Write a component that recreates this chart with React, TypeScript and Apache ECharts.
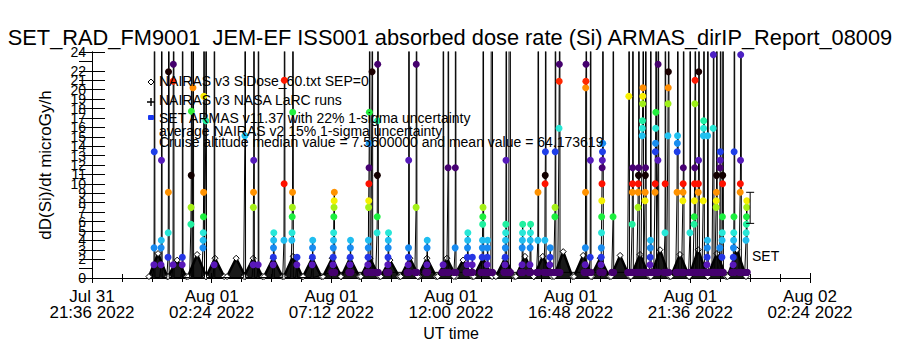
import React, { useEffect, useRef } from "react";
import * as echarts from "echarts";

const FONT = "Liberation Sans";

const titleText =
  "SET_RAD_FM9001  JEM-EF ISS001 absorbed dose rate (Si) ARMAS_dirIP_Report_08009";
const yAxisName = "dD(Si)/dt microGy/h";
const xAxisName = "UT time";
const legendLines = [
  "NAIRAS v3 SiDose_60.txt SEP=0",
  "NAIRAS v3 NASA LaRC runs",
  "SET ARMAS v11.37 with 22% 1-sigma uncertainty",
  "average NAIRAS v2 15% 1-sigma uncertainty",
  "Cruise altitude median value = 7.5600000 and mean value = 64.173619",
];

// x axis: minutes since Jul 31 21:36 UT
const xTickLabels = [
  "Jul 31\n21:36 2022",
  "Aug 01\n02:24 2022",
  "Aug 01\n07:12 2022",
  "Aug 01\n12:00 2022",
  "Aug 01\n16:48 2022",
  "Aug 01\n21:36 2022",
  "Aug 02\n02:24 2022",
];
const X_STEP = 288;
const X_MAX = 1728;
const Y_MAX = 24;

// NAIRAS v3 modelled dose: orbit humps (peak time in minutes, peak value)
const nairasPeakMin = [
  159, 205, 253, 296, 347, 388, 436, 484, 530, 578, 621, 669, 717, 765, 806,
  854, 893, 941, 994, 1042, 1085, 1134, 1182, 1223, 1271, 1319, 1367, 1415,
  1459, 1504, 1552,
];
const nairasPeakVal = [
  2.6, 1.9, 2.5, 2.1, 2.1, 2.1, 2.1, 2.3, 2.1, 2.1, 2.1, 2.1, 1.9, 2.1, 2.1,
  2.1, 1.9, 2.1, 2.1, 2.3, 2.3, 2.8, 2.4, 2.1, 2.4, 2.5, 3.0, 2.5, 3.0, 2.6,
  3.0,
];
const nairasBase = 0.15;
const nairasHalfWidth = 22;

// SET ARMAS measurements: columns of readings (minutes), 99 = off scale
const TOP = 99;
const armasColMin = [
  149, 166, 183, 195, 217, 238, 243, 267, 274, 294, 368, 388, 400, 436, 462,
  481, 493, 530, 580, 621, 664, 674, 686, 712, 761, 780, 806, 845, 857, 874,
  903, 915, 939, 951, 963, 994, 1006, 1035, 1054, 1073, 1090, 1102, 1114,
  1124, 1187, 1199, 1225, 1254, 1292, 1300, 1314, 1324, 1331, 1343, 1355,
  1362, 1379, 1386, 1408, 1422, 1439, 1449, 1459, 1471, 1480, 1495, 1502,
  1511, 1516, 1543, 1560, 1574,
];
const armasColLevels: number[][] = [
  [1.4, 3.2, 13.4, TOP],
  [1.4, 3.2, 4.0, 12.5, TOP],
  [2.2, 4.8, 9.1, 21.9, TOP],
  [1.4, 20.9, 22.7, TOP],
  [1.4, 2.2, TOP],
  [5.7, 7.5, 10.9, 17.7, TOP],
  [20.2, TOP],
  [3.2, 4.0, 4.8, 6.5, 9.1, 19.3, TOP],
  [16.7, TOP],
  [1.4, TOP],
  [15.1, TOP],
  [1.4, 7.5, 9.1, 12.5, TOP],
  [1.4, TOP],
  [1.4, 2.2, 3.2, 4.0, 4.8],
  [4.0, 10.0, 21.0, TOP],
  [4.0, 4.8, 6.5, 7.5, 9.1, 17.6, TOP],
  [1.4, 2.2],
  [1.4, 2.2, 3.2, 4.0],
  [1.4, 2.2, 3.2, 4.0, 4.8, 6.5, 7.5, 8.2, 9.1],
  [1.4, 2.2, 3.2, 4.0],
  [1.4, 2.2, 3.2, 4.0, 7.5, 8.2, 10.0, 11.7, 14.3, 17.6, TOP],
  [21.9, TOP],
  [4.8, 6.5, 10.9, 16.7, 22.7, TOP],
  [1.4, 2.2, 3.2, 4.0, 4.8],
  [1.4, 2.2, 3.2, 12.5, TOP],
  [7.5, 22.7, TOP],
  [1.4, 3.2, 4.0],
  [1.4, TOP],
  [11.7, TOP],
  [3.2, 11.7, TOP],
  [1.4, 2.2, 3.2, 4.0, 4.8],
  [1.4, 2.2],
  [2.2, 3.2, 4.0, 5.7, 6.5, 7.5, TOP],
  [1.4, 2.2, 3.2, 4.0],
  [TOP],
  [1.4, 2.2, 3.2, 4.0, 4.8, 5.7, 12.5, TOP],
  [TOP],
  [1.4, 3.2, 4.0, 4.8, 5.7],
  [1.4, 3.2, 4.0, 4.8, 5.7],
  [4.0, 9.1, TOP],
  [4.0, 10.0, 10.9, 13.4, TOP],
  [1.4, 2.2, 3.2],
  [6.5, 7.5, 13.4, TOP],
  [15.9, 20.9, 22.7, TOP],
  [1.4, 3.2, 9.1, 20.2, 20.9, 22.7, TOP],
  [2.2, 12.5, TOP],
  [1.4, 2.2, 3.2, 4.8, 6.5, 8.2, 10.0, 11.7, 12.5, 13.4, 14.3, TOP],
  [6.5, TOP],
  [19.3, TOP],
  [5.7, 9.1, 10.0, 11.7, TOP],
  [7.5, 9.1, 10.0, 10.9, 11.7, TOP],
  [15.1, 15.9, 16.7, 18.5, 19.3, 20.2, TOP],
  [8.2, 9.1, 10.9, 11.7, TOP],
  [1.4, 2.2, 3.2, 4.0, TOP],
  [9.1, 10.0, 13.4, 14.3, 15.9, 17.6, TOP],
  [12.5, 22.7, TOP],
  [4.8, 10.0, TOP],
  [15.1, 18.5, 20.2, 21.9, TOP],
  [9.1, 13.4, 14.3, 15.1, TOP],
  [8.2, 9.1, 10.0, 11.7, TOP],
  [4.8, TOP],
  [5.7, 6.5, 8.2, 10.0, 11.7, 18.5, 21.0, TOP],
  [9.1, 10.0, 12.5, 21.9, TOP],
  [8.2, 15.1, 15.9, 16.7, TOP],
  [1.4, 2.2, 3.2, 4.0, 15.1, TOP],
  [15.9, 23.7, TOP],
  [7.5, 8.2, 9.1, 10.9, TOP],
  [3.2, 11.7, 12.5, 13.4, TOP],
  [2.2, 4.0, 4.8, 6.5, 10.0, 10.9, TOP],
  [1.4, 2.2, 3.2, 4.0, 4.8, 6.5, 13.4, TOP],
  [9.1, 10.0, 12.5, 23.7, TOP],
  [4.0, 4.8, 5.7, 6.5, 7.5, 8.2],
];
// quiet-time reading between columns: near zero early on, ~0.6 later
const armasQuietEarly = 0.05;
const armasQuietLate = 0.6;
const armasQuietLateFrom = 560;

// SET uncertainty bar [minute, low, high]
const setErrorBar = [[1584, 5.8, 9.1]];

// cyclic rainbow colour table used for the ARMAS points
const colourStops: [number, string][] = [
  [0.0, "#000000"],
  [0.02, "#200030"],
  [0.06, "#460070"],
  [0.13, "#5a18b8"],
  [0.21, "#2038e8"],
  [0.29, "#1888f0"],
  [0.37, "#20c0f0"],
  [0.44, "#28e8d8"],
  [0.52, "#20f0a0"],
  [0.59, "#18f040"],
  [0.68, "#a0f018"],
  [0.75, "#f8f000"],
  [0.83, "#ff9000"],
  [0.91, "#ff1000"],
  [0.96, "#500000"],
  [1.0, "#000000"],
];
const COLOUR_PERIOD = 11.05;

function hexToRgb(h: string) {
  return [
    parseInt(h.slice(1, 3), 16),
    parseInt(h.slice(3, 5), 16),
    parseInt(h.slice(5, 7), 16),
  ];
}
function colourFor(v: number) {
  const p = ((v + 0.05) % COLOUR_PERIOD) / COLOUR_PERIOD;
  for (let i = 1; i < colourStops.length; i++) {
    if (p <= colourStops[i][0]) {
      const [p0, c0] = colourStops[i - 1];
      const [p1, c1] = colourStops[i];
      const f = (p - p0) / (p1 - p0);
      const a = hexToRgb(c0);
      const b = hexToRgb(c1);
      const c = a.map((x, k) => Math.round(x + (b[k] - x) * f));
      return `rgb(${c[0]},${c[1]},${c[2]})`;
    }
  }
  return "#000";
}

function buildNairas() {
  const out: number[][] = [];
  nairasPeakMin.forEach((t, i) => {
    out.push([t - nairasHalfWidth, nairasBase]);
    out.push([t, nairasPeakVal[i]]);
    out.push([t + nairasHalfWidth, nairasBase]);
  });
  return out;
}

function buildArmas() {
  const out: any[] = [];
  const pt = (t: number, v: number) =>
    v >= TOP || v < 0.3
      ? { value: [t, v], symbol: "none" }
      : { value: [t, v], itemStyle: { color: colourFor(v) } };
  armasColMin.forEach((t, i) => {
    const lv = armasColLevels[i];
    const quiet = t >= armasQuietLateFrom ? armasQuietLate : armasQuietEarly;
    out.push(pt(t - 3, quiet));
    lv.forEach((v, k) => out.push(pt(t + k * 0.4, v)));
    const last = t + (lv.length - 1) * 0.4;
    if (lv[lv.length - 1] >= TOP) out.push(pt(last + 0.6, TOP));
    out.push(pt(last + 1.2, quiet));
  });
  return out;
}

export default function App() {
  const ref = useRef<HTMLDivElement>(null);
  useEffect(() => {
    document.body.style.margin = "0";
    const chart = echarts.init(ref.current!, undefined, { renderer: "svg" });
    const axisBlack = { color: "#000", width: 1 };
    const option: any = {
      animation: false,
      backgroundColor: "#fff",
      textStyle: { fontFamily: FONT },
      grid: { left: 92, right: 90, top: 52, bottom: 72 },
      xAxis: [
        {
          type: "value",
          min: 0,
          max: X_MAX,
          interval: X_STEP,
          position: "bottom",
          axisLine: { show: true, lineStyle: axisBlack },
          axisTick: { show: true, inside: true, length: 5, lineStyle: axisBlack },
          minorTick: { show: true, splitNumber: 4, length: 4, lineStyle: axisBlack },
          splitLine: { show: false },
          axisLabel: {
            formatter: (v: number) => xTickLabels[Math.round(v / X_STEP)] ?? "",
            color: "#000",
            fontFamily: FONT,
            fontSize: 17,
            lineHeight: 16,
            margin: 10,
            showMinLabel: true,
            showMaxLabel: true,
          },
          name: xAxisName,
          nameLocation: "middle",
          nameGap: 45,
          nameTextStyle: { color: "#000", fontFamily: FONT, fontSize: 16 },
        },
        {
          type: "value",
          min: 0,
          max: X_MAX,
          interval: X_STEP,
          position: "top",
          axisLine: { show: true, lineStyle: axisBlack },
          axisTick: { show: true, inside: true, length: 5, lineStyle: axisBlack },
          minorTick: { show: true, splitNumber: 4, length: 4, lineStyle: axisBlack },
          splitLine: { show: false },
          axisLabel: { show: false },
        },
      ],
      yAxis: [
        {
          type: "value",
          min: 0,
          max: Y_MAX,
          interval: 1,
          position: "left",
          axisLine: { show: true, lineStyle: axisBlack },
          axisTick: { show: true, inside: true, length: 13, lineStyle: axisBlack },
          splitLine: { show: false },
          axisLabel: {
            color: "#000",
            fontFamily: FONT,
            fontSize: 14,
            margin: 6,
            showMinLabel: true,
            showMaxLabel: true,
          },
          name: yAxisName,
          nameLocation: "middle",
          nameGap: 38,
          nameRotate: 90,
          nameTextStyle: { color: "#000", fontFamily: FONT, fontSize: 17 },
        },
        {
          type: "value",
          min: 0,
          max: Y_MAX,
          interval: 1,
          position: "right",
          axisLine: { show: true, lineStyle: axisBlack },
          axisTick: { show: true, inside: true, length: 13, lineStyle: axisBlack },
          splitLine: { show: false },
          axisLabel: { show: false },
        },
      ],
      series: [
        {
          name: legendLines[0],
          type: "line",
          xAxisIndex: 0,
          yAxisIndex: 0,
          data: buildNairas(),
          symbol: "diamond",
          symbolSize: 6,
          itemStyle: { color: "#fff", borderColor: "#000", borderWidth: 1 },
          lineStyle: { color: "#000", width: 2.5 },
          areaStyle: { color: "#000", opacity: 0.9 },
          z: 2,
        },
        {
          name: legendLines[2],
          type: "line",
          xAxisIndex: 0,
          yAxisIndex: 0,
          data: buildArmas(),
          symbol: "circle",
          symbolSize: 7,
          showAllSymbol: true,
          lineStyle: { color: "#000", width: 1 },
          clip: true,
          z: 3,
        },
        {
          type: "custom",
          xAxisIndex: 0,
          yAxisIndex: 0,
          data: setErrorBar,
          encode: { x: 0, y: [1, 2] },
          z: 4,
          renderItem: (params: any, api: any) => {
            const p1 = api.coord([api.value(0), api.value(1)]);
            const p2 = api.coord([api.value(0), api.value(2)]);
            const st = { stroke: "#000", lineWidth: 1 };
            return {
              type: "group",
              children: [
                { type: "line", shape: { x1: p1[0], y1: p1[1], x2: p2[0], y2: p2[1] }, style: st },
                { type: "line", shape: { x1: p1[0] - 4, y1: p1[1], x2: p1[0] + 4, y2: p1[1] }, style: st },
                { type: "line", shape: { x1: p2[0] - 4, y1: p2[1], x2: p2[0] + 4, y2: p2[1] }, style: st },
              ],
            };
          },
        },
      ],
      graphic: [
        {
          type: "text",
          x: 450,
          y: 37,
          style: {
            text: titleText,
            fontFamily: FONT,
            fontSize: 21.8,
            fill: "#000",
            textAlign: "center",
            textVerticalAlign: "middle",
          },
        },
        {
          type: "text",
          x: 752,
          y: 256,
          style: { text: "SET", fontFamily: FONT, fontSize: 14, fill: "#000", textVerticalAlign: "middle" },
        },
        {
          type: "polygon",
          shape: { points: [[151, 79], [154, 82], [151, 85], [148, 82]] },
          style: { fill: "#fff", stroke: "#000", lineWidth: 1 },
          z: 10,
        },
        {
          type: "line",
          shape: { x1: 147, y1: 102, x2: 155, y2: 102 },
          style: { stroke: "#000", lineWidth: 1.5 },
          z: 10,
        },
        {
          type: "line",
          shape: { x1: 151, y1: 98, x2: 151, y2: 106 },
          style: { stroke: "#000", lineWidth: 1.5 },
          z: 10,
        },
        {
          type: "rect",
          shape: { x: 148, y: 115, width: 6, height: 5, r: 1 },
          style: { fill: "#1838f0" },
          z: 10,
        },
        ...legendLines.map((t, i) => ({
          type: "text",
          x: 159,
          y: [81, 100, 118, 131, 142][i],
          z: 10,
          style: {
            text: t,
            fontFamily: FONT,
            fontSize: 14,
            fill: "#000",
            textVerticalAlign: "middle",
          },
        })),
      ],
    };
    chart.setOption(option);
    return () => chart.dispose();
  }, []);
  return <div ref={ref} style={{ width: 900, height: 350 }} />;
}
